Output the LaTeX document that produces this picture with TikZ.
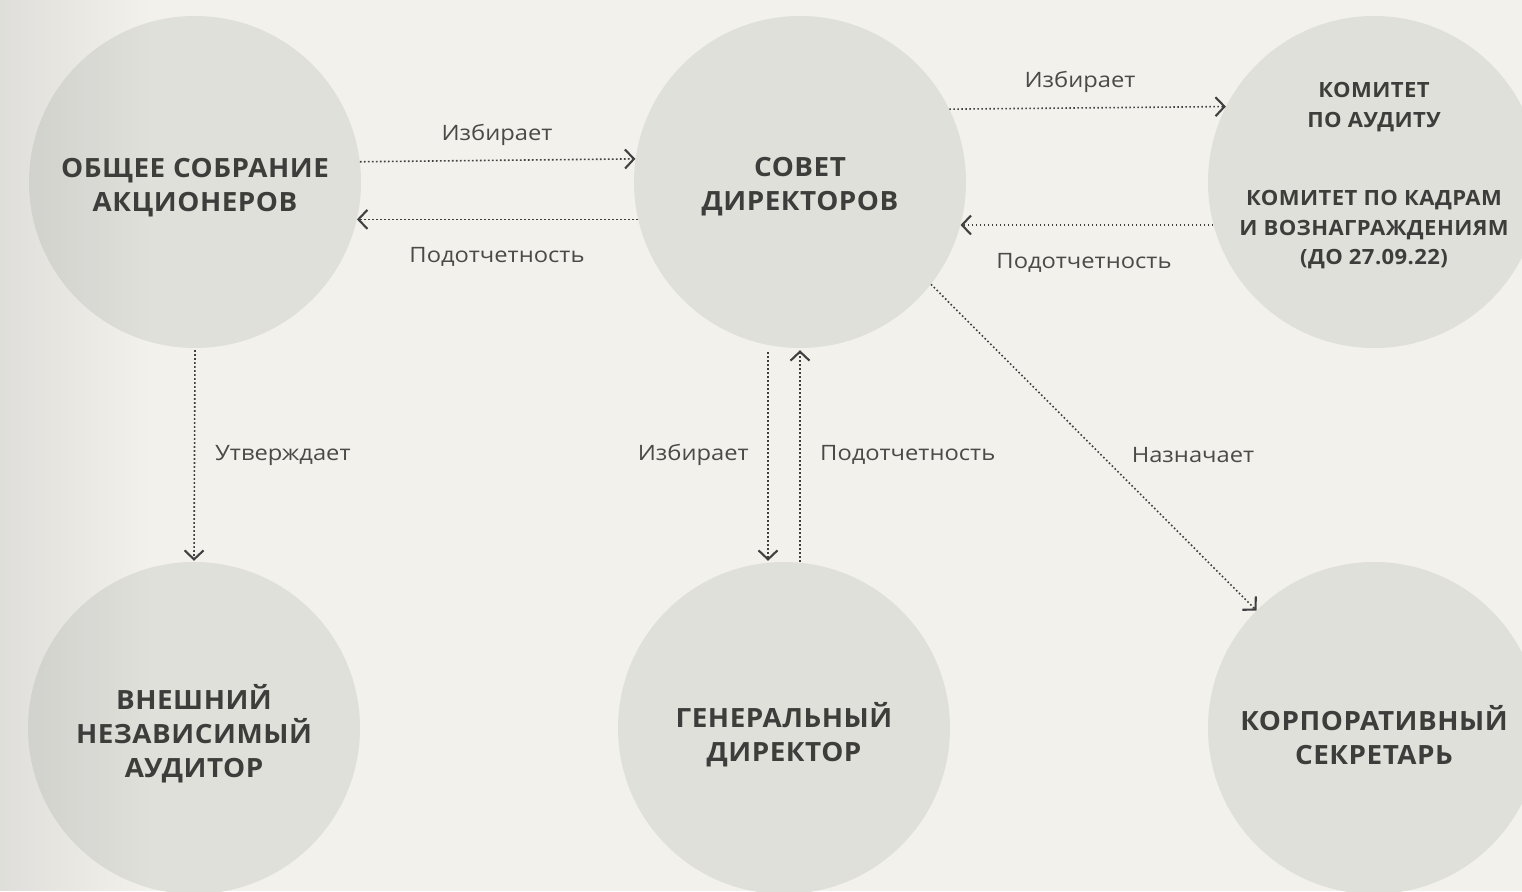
\documentclass[tikz,border=0pt]{standalone}
\usepackage{fontspec}
\setmainfont{Open Sans}
\newfontfamily\headfont{Open Sans}[FakeStretch=1.05, LetterSpace=2]
\newfontfamily\labfont{Open Sans}[FakeStretch=1.12]
\usetikzlibrary{arrows.meta,fadings}
\definecolor{bgc}{HTML}{F2F1EC}
\definecolor{circc}{HTML}{E0E0DB}
\definecolor{txtc}{HTML}{3D3D3B}
\definecolor{labc}{HTML}{4A4A48}
\definecolor{linec}{HTML}{404040}
\begin{document}
\begin{tikzpicture}[x=1pt,y=-1pt,
  circ/.style={circle,fill=circc,minimum size=332pt,inner sep=0pt},
  head/.style={text=txtc,align=center,yshift=-3pt,font=\headfont\bfseries\fontsize{26.5}{34}\selectfont},
  headsm/.style={text=txtc,align=center,yshift=-3pt,font=\headfont\bfseries\fontsize{21}{29.5}\selectfont},
  lab/.style={text=labc,yshift=-3pt,font=\labfont\fontsize{21.2}{24}\selectfont,inner sep=0pt},
  conn/.style={draw=linec,line width=1.6pt,dash pattern=on 1.6pt off 2.4pt,
    -{Straight Barb[length=9pt,width=19pt,line width=2.1pt]}}
]
\useasboundingbox (0,0) rectangle (1522,891);
\fill[bgc] (0,0) rectangle (1522,891);

% circles
\node[circ] (o) at (195,182) {};
\node[circ] (s) at (800,182) {};
\node[circ] (k) at (1374,182) {};
\node[circ] (v) at (194,728) {};
\node[circ] (g) at (784,728) {};
\node[circ] (p) at (1374,728) {};

% left-edge shading
\fill[black,opacity=0.075,path fading=east] (0,0) rectangle (150,891);

% circle texts
\node[head] (ot) at (195,185) {ОБЩЕЕ СОБРАНИЕ\\АКЦИОНЕРОВ};
\node[head] (st) at (800,184) {СОВЕТ\\ДИРЕКТОРОВ};
\node[headsm] (kt1) at (1374,104) {КОМИТЕТ\\ПО АУДИТУ};
\node[headsm] (kt2) at (1374,227) {КОМИТЕТ ПО КАДРАМ\\И ВОЗНАГРАЖДЕНИЯМ\\(ДО 27.09.22)};
\node[head] (vt) at (194,731) {ВНЕШНИЙ\\НЕЗАВИСИМЫЙ\\АУДИТОР};
\node[head] (gt) at (784,732) {ГЕНЕРАЛЬНЫЙ\\ДИРЕКТОР};
\node[head] (pt) at (1374,732) {КОРПОРАТИВНЫЙ\\СЕКРЕТАРЬ};

% connectors
\draw[conn] (o.7) -- (s.172);
\draw[conn] (s.193.6) -- (o.-13.6);
\draw[conn] (s.26) -- (k.153);
\draw[conn] (k.195.7) -- (s.-15.7);
\draw[conn] ([yshift=-2pt]o.south) -- ([yshift=1pt]v.north);
\draw[conn] ([xshift=-32pt,yshift=-4pt]s.south) -- ([xshift=-16pt,yshift=1pt]g.north);
\draw[conn] ([xshift=16pt]g.north) -- ([yshift=-2pt]s.south);
\draw[conn] (s.-38.4) -- (p.135.5);

% labels
\node[lab] (l1) at (497,132) {Избирает};
\node[lab] (l2) at (497,254) {Подотчетность};
\node[lab] (l3) at (1080,79) {Избирает};
\node[lab] (l4) at (1084,260) {Подотчетность};
\node[lab,anchor=west] (l5) at (215,452) {Утверждает};
\node[lab,anchor=east] (l6) at (749,452) {Избирает};
\node[lab,anchor=west] (l7) at (820,452) {Подотчетность};
\node[lab] (l8) at (1193,452) {Назначает};
\end{tikzpicture}
\end{document}
